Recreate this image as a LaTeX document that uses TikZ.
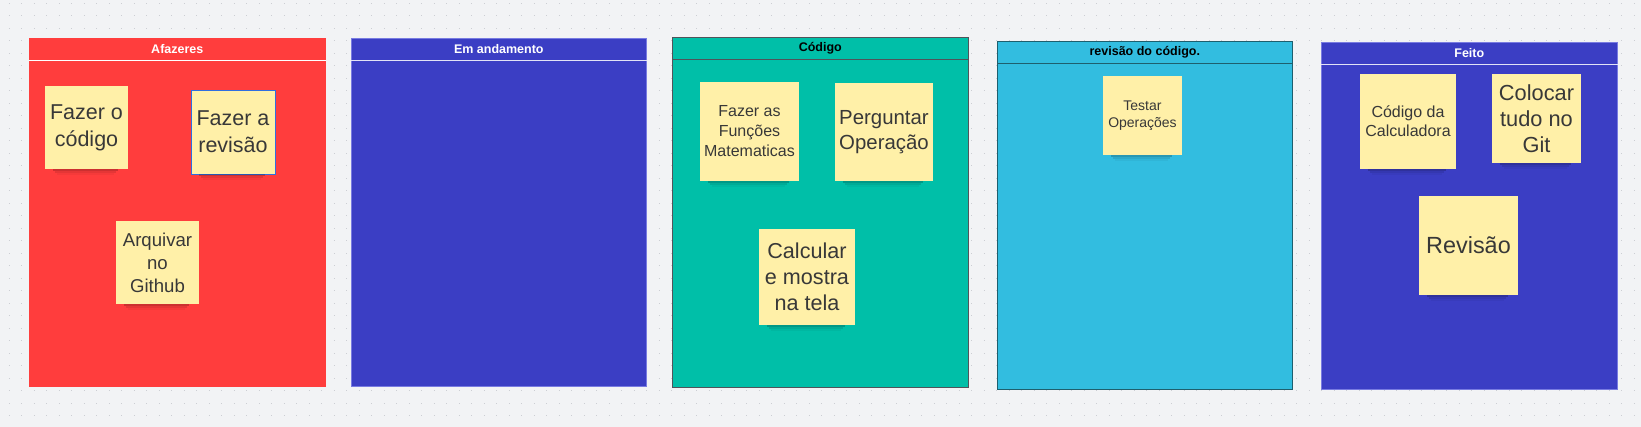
\documentclass[tikz,border=0pt]{standalone}
\usepackage{fontspec}
\setmainfont{Liberation Sans}

\definecolor{fundo}{RGB}{242,243,245}
\definecolor{ponto}{RGB}{204,206,211}
\definecolor{vermelho}{RGB}{255,61,61}
\definecolor{azul}{RGB}{59,62,196}
\definecolor{azulclaro}{RGB}{120,123,225}
\definecolor{verde}{RGB}{0,191,168}
\definecolor{ciano}{RGB}{50,189,224}
\definecolor{cinzaescuro}{RGB}{80,84,90}
\definecolor{petroleo}{RGB}{30,95,110}
\definecolor{amarelo}{RGB}{255,240,168}
\definecolor{texto}{RGB}{56,56,56}
\definecolor{selecao}{RGB}{47,111,224}

\begin{document}
\begin{tikzpicture}[x=1pt,y=-1pt,
    coluna/.style={rectangle, anchor=north west, inner sep=0pt, line width=0.6pt},
    titulo/.style={font=\bfseries\fontsize{12.5}{14}\selectfont, inner sep=0pt},
    sticky/.style={rectangle, fill=amarelo, inner sep=0pt, text=texto, align=center}]

    % fundo pontilhado
    \fill[fundo] (0,0) rectangle (1641,427);
    \useasboundingbox (0,0) rectangle (1641,427);
    \foreach \k in {0,...,33}
        \draw[ponto, line width=1pt, dash pattern=on 1pt off 11.5pt]
            (8.8,{3.3+12.5*\k}) -- (1641,{3.3+12.5*\k});

    % colunas
    \node[coluna, fill=vermelho, draw=vermelho, minimum width=296pt, minimum height=348pt] (afazeres) at (29,38) {};
    \node[coluna, fill=azul, draw=azulclaro, minimum width=295pt, minimum height=348pt] (andamento) at (351,38) {};
    \node[coluna, fill=verde, draw=cinzaescuro, minimum width=296pt, minimum height=350pt] (codigo) at (672,37) {};
    \node[coluna, fill=ciano, draw=petroleo, minimum width=295pt, minimum height=348pt] (revisaoCodigo) at (997,41) {};
    \node[coluna, fill=azul, draw=azulclaro, minimum width=296pt, minimum height=347pt] (feito) at (1321,42) {};

    % titulos
    \node[titulo, text=white] (tAfazeres) at ([yshift=-11pt]afazeres.north) {Afazeres};
    \node[titulo, text=white] (tAndamento) at ([yshift=-11pt]andamento.north) {Em andamento};
    \node[titulo, text=black] (tCodigo) at ([yshift=-11pt]codigo.north) {Código};
    \node[titulo, text=black] (tRevisaoCodigo) at ([yshift=-11pt]revisaoCodigo.north) {revisão do código.};
    \node[titulo, text=white] (tFeito) at ([yshift=-11pt]feito.north) {Feito};
    \draw[white, line width=0.8pt] ([yshift=-22pt]afazeres.north west) -- ([yshift=-22pt]afazeres.north east);
    \draw[white!85!azul, line width=0.8pt] ([yshift=-22pt]andamento.north west) -- ([yshift=-22pt]andamento.north east);
    \draw[cinzaescuro, line width=0.8pt] ([yshift=-22pt]codigo.north west) -- ([yshift=-22pt]codigo.north east);
    \draw[petroleo, line width=0.8pt] ([yshift=-22pt]revisaoCodigo.north west) -- ([yshift=-22pt]revisaoCodigo.north east);
    \draw[white!85!azul, line width=0.8pt] ([yshift=-22pt]feito.north west) -- ([yshift=-22pt]feito.north east);

    % notas
    \node[sticky, minimum width=83pt, minimum height=83pt, font=\fontsize{21.5}{27}\selectfont] (fazerCodigo) at (86.5,127.5) {Fazer o\\código};
    \node[sticky, draw=selecao, line width=0.8pt, minimum width=84pt, minimum height=84pt, font=\fontsize{21.5}{27}\selectfont] (fazerRevisao) at (233,132) {Fazer a\\revisão};
    \node[sticky, minimum width=83pt, minimum height=83pt, font=\fontsize{18.6}{23}\selectfont] (arquivar) at (157.5,262.5) {Arquivar\\no\\Github};
    \node[sticky, minimum width=99pt, minimum height=99pt, font=\fontsize{16}{20}\selectfont] (funcoes) at (749.5,131.5) {Fazer as\\Funções\\Matematicas};
    \node[sticky, minimum width=98pt, minimum height=98pt, font=\fontsize{20.4}{25}\selectfont] (perguntar) at (884,132) {Perguntar\\Operação};
    \node[sticky, minimum width=96pt, minimum height=96pt, font=\fontsize{21.6}{26}\selectfont] (calcular) at (807,277) {Calcular\\e mostra\\na tela};
    \node[sticky, minimum width=79pt, minimum height=79pt, font=\fontsize{14}{17.3}\selectfont] (testar) at (1142.5,115.5) {Testar\\Operações};
    \node[sticky, minimum width=96pt, minimum height=95pt, font=\fontsize{16}{19.3}\selectfont] (codigoCalc) at (1408,121.5) {Código da\\Calculadora};
    \node[sticky, minimum width=89pt, minimum height=89pt, font=\fontsize{21.8}{26}\selectfont] (colocarGit) at (1536.5,118.5) {Colocar\\tudo no\\Git};
    \node[sticky, minimum width=99pt, minimum height=99pt, font=\fontsize{23.4}{28}\selectfont] (revisao) at (1468.5,245.5) {Revisão};

    % sombras
    \foreach \n in {fazerCodigo,fazerRevisao,arquivar,funcoes,perguntar,calcular,testar,codigoCalc,colocarGit,revisao} {
        \fill[black, opacity=0.2] ([xshift=8pt]\n.south west) rectangle ([xshift=-10pt,yshift=-2pt]\n.south east);
        \fill[black, opacity=0.1] ([xshift=10pt,yshift=-2pt]\n.south west) rectangle ([xshift=-12pt,yshift=-4pt]\n.south east);
        \fill[black, opacity=0.04] ([xshift=12pt,yshift=-4pt]\n.south west) rectangle ([xshift=-14pt,yshift=-6pt]\n.south east);
    }
\end{tikzpicture}
\end{document}
